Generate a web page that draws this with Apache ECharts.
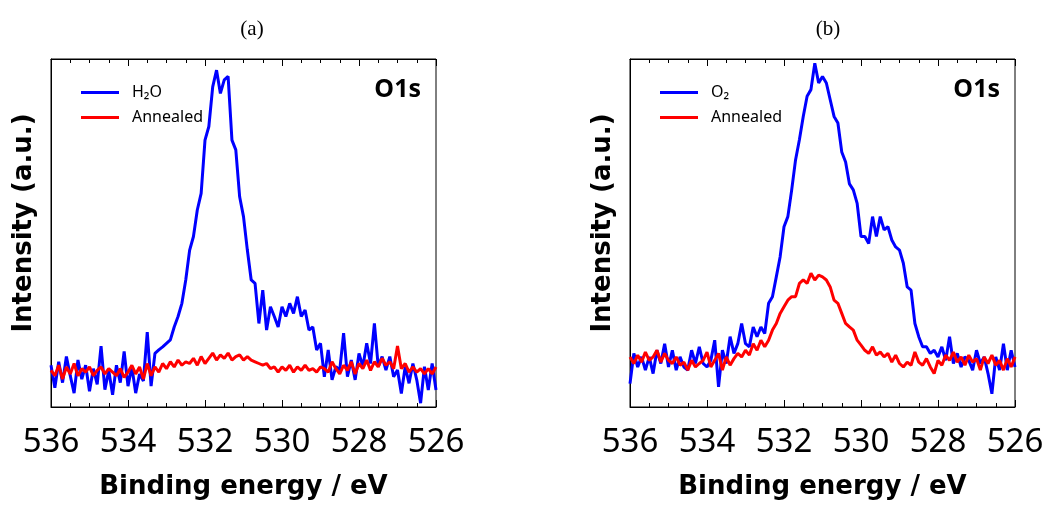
<!DOCTYPE html>
<html>
<head>
<meta charset="utf-8">
<script src="https://cdn.jsdelivr.net/npm/echarts@6/dist/echarts.min.js"></script>
<style>
  html, body { margin: 0; padding: 0; background: #fff; }
  #chart { width: 1048px; height: 507px; }
</style>
</head>
<body>
<div id="chart"></div>
<script>
// binding energy grid (eV), shared by all four spectra
const energy = [
  536.0, 535.9, 535.8, 535.7, 535.6, 535.5, 535.4, 535.3, 535.2, 535.1,
  535.0, 534.9, 534.8, 534.7, 534.6, 534.5, 534.4, 534.3, 534.2, 534.1,
  534.0, 533.9, 533.8, 533.7, 533.6, 533.5, 533.4, 533.3, 533.2, 533.1,
  533.0, 532.9, 532.8, 532.7, 532.6, 532.5, 532.4, 532.3, 532.2, 532.1,
  532.0, 531.9, 531.8, 531.7, 531.6, 531.5, 531.4, 531.3, 531.2, 531.1,
  531.0, 530.9, 530.8, 530.7, 530.6, 530.5, 530.4, 530.3, 530.2, 530.1,
  530.0, 529.9, 529.8, 529.7, 529.6, 529.5, 529.4, 529.3, 529.2, 529.1,
  529.0, 528.9, 528.8, 528.7, 528.6, 528.5, 528.4, 528.3, 528.2, 528.1,
  528.0, 527.9, 527.8, 527.7, 527.6, 527.5, 527.4, 527.3, 527.2, 527.1,
  527.0, 526.9, 526.8, 526.7, 526.6, 526.5, 526.4, 526.3, 526.2, 526.1,
  526.0
];

// (a) H2O dosed
const h2o = [
  12.0, 5.5, 13.0, 7.0, 14.5, 9.0, 4.0, 13.5, 8.0, 12.0,
  4.5, 11.0, 6.5, 17.5, 5.0, 10.5, 3.5, 12.0, 7.0, 16.0,
  6.0, 11.5, 4.0, 9.5, 7.5, 21.5, 6.0, 15.4, 16.4, 17.3,
  18.3, 19.3, 23.0, 26.0, 29.8, 36.5, 45.0, 49.0, 56.6, 61.4,
  76.7, 80.6, 92.0, 96.8, 90.1, 94.0, 95.0, 76.7, 73.9, 60.4,
  54.7, 45.1, 36.5, 35.5, 24.0, 33.6, 22.1, 28.8, 26.0, 23.0,
  28.8, 26.0, 29.8, 26.9, 31.7, 26.0, 27.9, 22.1, 23.0, 16.4,
  18.3, 8.7, 16.4, 7.8, 11.6, 10.6, 21.2, 8.7, 13.5, 7.8,
  15.4, 11.6, 18.3, 12.5, 24.0, 11.6, 14.5, 10.6, 14.5, 8.7,
  10.6, 3.9, 11.6, 6.8, 12.5, 7.8, 1.1, 11.6, 4.9, 12.5,
  4.9
];
const annealedA = [
  10.5, 9.0, 12.0, 8.0, 11.5, 9.5, 12.5, 9.0, 11.0, 10.0,
  11.5, 9.0, 10.5, 11.5, 9.5, 11.0, 10.0, 9.0, 11.0, 8.5,
  10.0, 12.0, 9.5, 11.5, 8.0, 12.5, 9.0, 11.5, 10.0, 12.5,
  11.0, 13.0, 11.5, 13.5, 12.0, 13.0, 12.5, 14.0, 12.0, 14.5,
  12.5, 14.0, 15.5, 13.5, 15.0, 14.0, 15.5, 13.5, 14.5, 15.0,
  13.5, 14.5, 13.5, 13.0, 12.5, 12.0, 12.5, 11.0, 11.5, 10.0,
  11.5, 10.5, 12.0, 10.0, 11.5, 10.5, 12.0, 10.5, 11.0, 10.0,
  11.5, 11.0, 10.0, 13.0, 11.0, 9.5, 12.0, 10.5, 13.0, 9.5,
  12.5, 11.0, 13.5, 10.5, 13.0, 11.5, 14.0, 12.0, 13.0, 11.0,
  17.5, 11.0, 12.5, 10.0, 11.5, 10.0, 11.0, 9.5, 11.0, 9.5,
  11.5
];

// (b) O2 dosed
const o2 = [
  6.7, 15.4, 11.5, 14.4, 10.6, 14.4, 9.6, 16.3, 12.5, 18.2,
  11.5, 16.3, 10.6, 14.4, 11.5, 10.6, 16.3, 12.5, 17.3, 12.5,
  11.5, 13.4, 19.2, 5.8, 16.3, 12.5, 20.2, 15.4, 18.2, 24.0,
  18.2, 17.3, 23.0, 20.2, 23.0, 21.1, 29.8, 31.7, 37.4, 43.2,
  51.8, 54.7, 62.4, 71.0, 76.8, 83.5, 89.3, 91.2, 98.8, 93.1,
  95.0, 93.1, 88.3, 83.5, 81.6, 73.3, 70.4, 64.1, 62.4, 58.5,
  49.0, 49.0, 47.0, 54.7, 49.0, 54.7, 50.9, 51.8, 48.0, 46.0,
  45.1, 41.3, 34.5, 33.6, 24.0, 20.2, 17.3, 17.3, 15.4, 16.3,
  14.4, 17.3, 13.4, 20.2, 12.5, 15.4, 11.5, 14.4, 13.4, 10.6,
  16.3, 12.5, 14.4, 9.6, 3.8, 14.4, 10.6, 18.2, 10.6, 16.3,
  11.5
];
const annealedB = [
  14.4, 12.5, 14.9, 12.9, 15.8, 13.4, 14.4, 16.3, 12.9, 15.4,
  13.4, 12.5, 14.4, 12.0, 12.9, 10.6, 13.4, 11.5, 12.5, 13.4,
  15.8, 11.5, 13.4, 15.4, 10.6, 14.4, 12.0, 13.9, 15.4, 14.4,
  16.3, 14.9, 18.2, 16.3, 19.2, 17.3, 19.2, 22.1, 24.0, 26.9,
  28.8, 30.7, 31.7, 31.7, 35.5, 36.5, 35.5, 38.4, 36.5, 37.9,
  37.4, 36.5, 34.5, 30.7, 29.8, 26.9, 24.0, 23.0, 22.1, 19.2,
  17.8, 16.3, 15.4, 17.3, 14.9, 15.8, 14.4, 15.4, 12.9, 14.9,
  12.5, 11.5, 12.9, 12.0, 15.8, 12.9, 12.0, 13.9, 11.5, 9.6,
  13.4, 12.0, 14.9, 13.4, 15.8, 12.9, 14.4, 12.0, 14.9, 12.9,
  13.9, 10.6, 14.4, 12.5, 14.9, 12.0, 13.4, 10.6, 13.9, 11.5,
  14.4
];

const xTicks = [536, 534, 532, 530, 528, 526];

function pairs(vals) {
  return energy.map(function (e, i) { return [e, vals[i]]; });
}

const sansFont = 'Noto Sans';
const boldFont = 'DejaVu Sans';

function bottomAxis(idx) {
  return {
    gridIndex: idx, type: 'value', position: 'bottom', inverse: true,
    min: xTicks[xTicks.length - 1], max: xTicks[0], interval: 2,
    axisLine: { show: true, lineStyle: { color: '#000', width: 1 } },
    axisTick: { show: true, inside: true, length: 7, lineStyle: { color: '#000' } },
    minorTick: { show: true, splitNumber: 4, length: 4, lineStyle: { color: '#000' } },
    axisLabel: { show: true, margin: 19, fontSize: 33, fontFamily: sansFont, color: '#000' },
    splitLine: { show: false },
    name: 'Binding energy / eV', nameLocation: 'middle', nameGap: 67,
    nameTextStyle: { fontSize: 26, fontWeight: 'bold', fontFamily: boldFont, color: '#000' }
  };
}
function topAxis(idx) {
  return {
    gridIndex: idx, type: 'value', position: 'top', inverse: true,
    min: xTicks[xTicks.length - 1], max: xTicks[0], interval: 2,
    axisLine: { show: true, lineStyle: { color: '#000', width: 1 } },
    axisTick: { show: true, inside: true, length: 7, lineStyle: { color: '#000' } },
    minorTick: { show: true, splitNumber: 4, length: 4, lineStyle: { color: '#000' } },
    axisLabel: { show: false },
    splitLine: { show: false }
  };
}
function yAxis(idx) {
  return {
    gridIndex: idx, type: 'value', min: 0, max: 100,
    axisLine: { show: true, lineStyle: { color: '#000', width: 1 } },
    axisTick: { show: false }, axisLabel: { show: false }, splitLine: { show: false },
    name: 'Intensity (a.u.)', nameLocation: 'middle', nameGap: 14,
    nameTextStyle: { fontSize: 26, fontWeight: 'bold', fontFamily: boldFont, color: '#000',
      padding: [0, 0, 0, 20] }
  };
}
function line(name, idx, vals, color) {
  return {
    name: name, type: 'line', xAxisIndex: idx, yAxisIndex: idx,
    data: pairs(vals), showSymbol: false, symbol: 'none',
    lineStyle: { color: color, width: 3 }, itemStyle: { color: color }
  };
}
function legend(left, names) {
  return {
    data: names, orient: 'vertical', left: left, top: 77, itemGap: 4,
    icon: 'rect', itemWidth: 38, itemHeight: 3, selectedMode: false,
    textStyle: { fontSize: 16, fontFamily: sansFont, color: '#000', padding: [0, 0, 0, 8],
      lineHeight: 21 }
  };
}

const chart = echarts.init(document.getElementById('chart'));
chart.setOption({
  animation: false,
  title: [
    { text: '(a)', left: 247, top: 14, textAlign: 'center',
      textStyle: { fontSize: 21, fontWeight: 'normal', fontFamily: 'Liberation Serif', color: '#000' } },
    { text: '(b)', left: 823, top: 14, textAlign: 'center',
      textStyle: { fontSize: 21, fontWeight: 'normal', fontFamily: 'Liberation Serif', color: '#000' } },
    { text: 'O1s', left: 416, top: 72, textAlign: 'right',
      textStyle: { fontSize: 25, fontWeight: 'bold', fontFamily: sansFont, color: '#000' } },
    { text: 'O1s', left: 995, top: 72, textAlign: 'right',
      textStyle: { fontSize: 25, fontWeight: 'bold', fontFamily: sansFont, color: '#000' } }
  ],
  legend: [
    legend(76, ['H₂O', 'Annealed']),
    legend(655, ['O₂', 'Annealed'])
  ],
  grid: [
    { left: 51, top: 59, width: 385, height: 348, show: true, borderColor: '#000', borderWidth: 1 },
    { left: 630, top: 59, width: 385, height: 348, show: true, borderColor: '#000', borderWidth: 1 }
  ],
  xAxis: [bottomAxis(0), bottomAxis(1), topAxis(0), topAxis(1)],
  yAxis: [yAxis(0), yAxis(1)],
  series: [
    line('H₂O', 0, h2o, '#0000ff'),
    line('Annealed', 0, annealedA, '#ff0000'),
    line('O₂', 1, o2, '#0000ff'),
    line('Annealed', 1, annealedB, '#ff0000')
  ]
});
</script>
</body>
</html>
